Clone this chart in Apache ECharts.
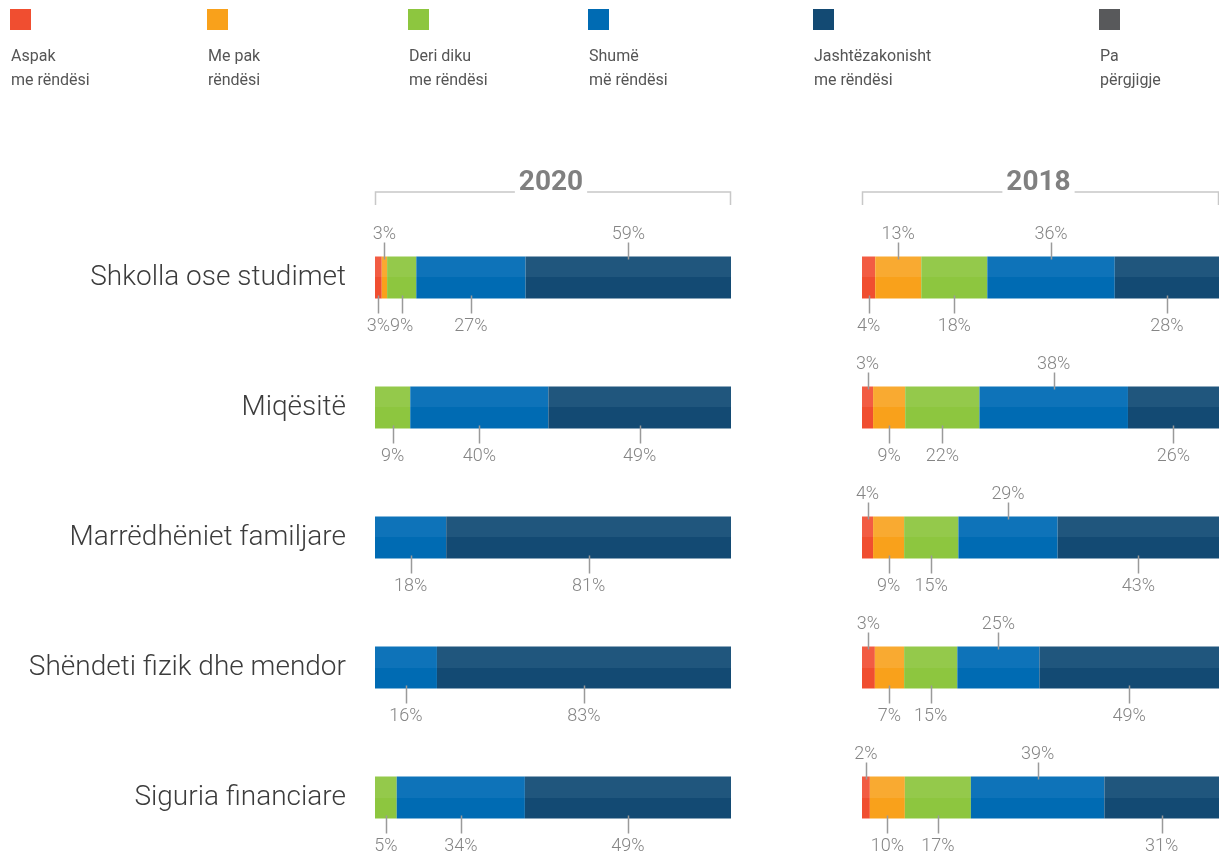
<!DOCTYPE html>
<html>
<head>
<meta charset="utf-8">
<script src="https://cdn.jsdelivr.net/npm/echarts@6/dist/echarts.min.js"></script>
<style>
  html, body { margin: 0; padding: 0; background: #fff; }
  #chart { width: 1219px; height: 858px; }
</style>
</head>
<body>
<div id="chart"></div>
<script>
const categories = ['Shkolla ose studimet', 'Miqësitë', 'Marrëdhëniet familjare', 'Shëndeti fizik dhe mendor', 'Siguria financiare'];
const levels = ['Aspak\nme rëndësi', 'Me pak\nrëndësi', 'Deri diku\nme rëndësi', 'Shumë\nmë rëndësi', 'Jashtëzakonisht\nme rëndësi', 'Pa\npërgjigje'];
const years = ['2020', '2018'];

// bar lengths as drawn (share of each bar, %), one array per level
const aspak2020 = [1.9, 0, 0, 0, 0];
const mePak2020 = [1.5, 0, 0, 0, 0];
const deriDiku2020 = [8.2, 9.9, 0, 0, 6.1];
const shume2020 = [30.7, 38.8, 20, 17.4, 36];
const jasht2020 = [57.7, 51.3, 80, 82.6, 57.9];

const aspak2018 = [3.7, 3.1, 3.1, 3.6, 2.2];
const mePak2018 = [12.9, 9, 8.7, 8.2, 9.8];
const deriDiku2018 = [18.5, 20.8, 15.2, 14.9, 18.5];
const shume2018 = [35.7, 41.6, 27.8, 23, 37.4];
const jasht2018 = [29.2, 25.5, 45.2, 50.3, 32.1];

// printed percentages (null = no label)
const aspakLbl2020 = [3, null, null, null, null];
const mePakLbl2020 = [3, null, null, null, null];
const deriDikuLbl2020 = [9, 9, null, null, 5];
const shumeLbl2020 = [27, 40, 18, 16, 34];
const jashtLbl2020 = [59, 49, 81, 83, 49];

const aspakLbl2018 = [4, 3, 4, 3, 2];
const mePakLbl2018 = [13, 9, 9, 7, 10];
const deriDikuLbl2018 = [18, 22, 15, 15, 17];
const shumeLbl2018 = [36, 38, 29, 25, 39];
const jashtLbl2018 = [28, 26, 43, 49, 31];

// layout / style
const shares = [
  [aspak2020, mePak2020, deriDiku2020, shume2020, jasht2020],
  [aspak2018, mePak2018, deriDiku2018, shume2018, jasht2018]
];
const labels = [
  [aspakLbl2020, mePakLbl2020, deriDikuLbl2020, shumeLbl2020, jashtLbl2020],
  [aspakLbl2018, mePakLbl2018, deriDikuLbl2018, shumeLbl2018, jashtLbl2018]
];
const labelSide = [
  [['dn', 'up', 'dn', 'dn', 'up'], 'dn', 'dn', 'dn', 'dn'],
  [['dn', 'up', 'dn', 'up', 'dn'], ['up', 'dn', 'dn', 'up', 'dn'], ['up', 'dn', 'dn', 'up', 'dn'], ['up', 'dn', 'dn', 'up', 'dn'], ['up', 'dn', 'dn', 'up', 'dn']]
];
const colors = ['#f04e30', '#f9a11b', '#8dc63f', '#006bb3', '#134a73', '#58595b'];
const topColors = ['#f25c43', '#f9aa31', '#94c94b', '#0e73b9', '#20567d'];
const gridLeft = [375, 862];
const gridWidth = [356, 357];
const legendX = [10, 207, 408, 588, 813, 1099];
const barH = 42;
const font = 'Roboto, "Noto Sans", sans-serif';

function twoTone(i) {
  return new echarts.graphic.LinearGradient(0, 0, 0, 1, [
    { offset: 0, color: topColors[i] },
    { offset: 0.5, color: topColors[i] },
    { offset: 0.5, color: colors[i] },
    { offset: 1, color: colors[i] }
  ]);
}

function rowTotal(p, row) {
  return shares[p].reduce((s, arr) => s + arr[row], 0);
}

function barSeries(p) {
  return shares[p].map((arr, i) => ({
    type: 'bar',
    name: levels[i],
    stack: 'y' + p,
    xAxisIndex: p,
    yAxisIndex: p,
    barWidth: barH,
    silent: true,
    itemStyle: { color: twoTone(i) },
    data: arr.map((v, row) => (v > 0 ? (v / rowTotal(p, row)) * 100 : '-'))
  }));
}

function labelSeries(p) {
  const data = [];
  categories.forEach((c, row) => {
    const total = rowTotal(p, row);
    let acc = 0;
    shares[p].forEach((arr, i) => {
      const v = (arr[row] / total) * 100;
      const txt = labels[p][i][row];
      if (txt != null) {
        const side = Array.isArray(labelSide[p][row]) ? labelSide[p][row][i] : labelSide[p][row];
        data.push([acc + v / 2, row, txt, side]);
      }
      acc += v;
    });
  });
  return {
    type: 'custom',
    xAxisIndex: p,
    yAxisIndex: p,
    silent: true,
    z: 10,
    data: data,
    renderItem(params, api) {
      const item = data[params.dataIndex];
      const pt = api.coord([item[0], item[1]]);
      const x = Math.round(pt[0]) + 0.5;
      const half = barH / 2;
      const up = item[3] === 'up';
      const y1 = up ? pt[1] - half + 3 : pt[1] + half - 3;
      const y2 = up ? pt[1] - half - 14 : pt[1] + half + 15;
      const ty = up ? pt[1] - half - 22 : pt[1] + half + 28;
      return {
        type: 'group',
        children: [
          {
            type: 'line',
            shape: { x1: x, y1: y1, x2: x, y2: y2 },
            style: { stroke: '#9a9a9a', lineWidth: 1.5 }
          },
          {
            type: 'text',
            x: pt[0],
            y: ty,
            style: {
              text: item[2] + '%',
              fontFamily: font,
              fontSize: 18,
              fontWeight: 300,
              fill: '#858585',
              align: 'center',
              verticalAlign: 'middle'
            }
          }
        ]
      };
    }
  };
}

const graphics = [];
years.forEach((yr, p) => {
  const l = gridLeft[p];
  const r = gridLeft[p] + gridWidth[p];
  graphics.push({
    type: 'polyline',
    shape: { points: [[l + 0.5, 205], [l + 0.5, 192], [r - 0.5, 192], [r - 0.5, 205]] },
    style: { stroke: '#c8c8c8', lineWidth: 1.5, fill: null },
    z: 1
  });
  graphics.push({
    type: 'text',
    x: (l + r) / 2 - 2,
    y: 183,
    z: 2,
    style: {
      text: yr,
      fontFamily: font,
      fontSize: 28,
      fontWeight: 'bold',
      fill: '#808080',
      align: 'center',
      verticalAlign: 'middle',
      backgroundColor: '#fff',
      padding: [0, 4]
    }
  });
});
levels.forEach((name, i) => {
  graphics.push({
    type: 'rect',
    shape: { x: legendX[i], y: 9, width: 21, height: 21 },
    style: { fill: colors[i] }
  });
  graphics.push({
    type: 'text',
    x: legendX[i] + 1,
    y: 45,
    style: {
      text: name,
      fontFamily: font,
      fontSize: 16,
      lineHeight: 24,
      fill: '#555555',
      verticalAlign: 'top'
    }
  });
});

const chart = echarts.init(document.getElementById('chart'));
chart.setOption({
  animation: false,
  textStyle: { fontFamily: font },
  grid: years.map((yr, p) => ({
    left: gridLeft[p],
    width: gridWidth[p],
    top: 277.5,
    height: 520
  })),
  xAxis: years.map((yr, p) => ({
    type: 'value',
    gridIndex: p,
    min: 0,
    max: 100,
    show: false
  })),
  yAxis: years.map((yr, p) => ({
    type: 'category',
    gridIndex: p,
    inverse: true,
    boundaryGap: false,
    data: categories,
    axisLine: { show: false },
    axisTick: { show: false },
    splitLine: { show: false },
    axisLabel: {
      show: p === 0,
      margin: 29,
      fontSize: 28,
      fontWeight: 300,
      color: '#3c3c3c',
      fontFamily: font
    }
  })),
  graphic: graphics,
  series: [].concat(barSeries(0), barSeries(1), labelSeries(0), labelSeries(1))
});
</script>
</body>
</html>
